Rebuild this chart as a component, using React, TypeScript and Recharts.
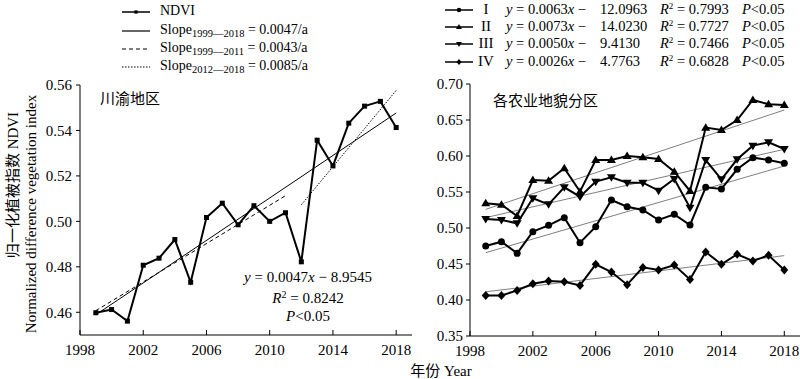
import React from "react";
import { LineChart, Line, XAxis, YAxis } from "recharts";

// Sichuan-Chongqing NDVI, 1999-2018
const years = [1999, 2000, 2001, 2002, 2003, 2004, 2005, 2006, 2007, 2008, 2009, 2010, 2011, 2012, 2013, 2014, 2015, 2016, 2017, 2018];
const ndvi = [0.4598, 0.4612, 0.4561, 0.4807, 0.4838, 0.492, 0.4732, 0.5017, 0.508, 0.4985, 0.5069, 0.5, 0.5038, 0.4822, 0.5357, 0.5244, 0.5432, 0.5507, 0.5528, 0.5413];

// trend line ends: [year, value]
const trendAll = [[1999, 0.4589], [2018, 0.5477]];
const trend9911 = [[1999, 0.4607], [2011, 0.5113]];
const trend1218 = [[2012, 0.5073], [2018, 0.5576]];

// agricultural geomorphic zones
const zoneI = [0.475, 0.481, 0.4648, 0.4949, 0.5037, 0.5144, 0.4796, 0.5019, 0.5389, 0.5296, 0.525, 0.5111, 0.519, 0.5042, 0.5565, 0.5542, 0.5815, 0.5977, 0.5944, 0.5898];
const zoneII = [0.5343, 0.5324, 0.5167, 0.5667, 0.5657, 0.5829, 0.5505, 0.5944, 0.5944, 0.6, 0.5981, 0.5958, 0.5782, 0.5514, 0.6394, 0.6361, 0.65, 0.6778, 0.6718, 0.6708];
const zoneIII = [0.5125, 0.5111, 0.5065, 0.5412, 0.5329, 0.5565, 0.5435, 0.5644, 0.5704, 0.563, 0.563, 0.5519, 0.5681, 0.5282, 0.5944, 0.5676, 0.5954, 0.6144, 0.619, 0.6097];
const zoneIV = [0.4063, 0.4063, 0.4133, 0.4226, 0.4263, 0.4253, 0.4202, 0.4495, 0.4388, 0.4212, 0.4453, 0.4416, 0.4486, 0.4286, 0.4667, 0.4495, 0.4635, 0.4542, 0.4621, 0.4416];

const trendI = [[1999, 0.4657], [2018, 0.5861]];
const trendII = [[1999, 0.5259], [2018, 0.6639]];
const trendIII = [[1999, 0.5144], [2018, 0.6093]];
const trendIV = [[1999, 0.4114], [2018, 0.4616]];

const xTicks = [1998, 2002, 2006, 2010, 2014, 2018];
const leftYTicks = [0.46, 0.48, 0.5, 0.52, 0.54, 0.56];
const rightYTicks = [0.35, 0.4, 0.45, 0.5, 0.55, 0.6, 0.65, 0.7];

const zoneNames = ["I", "II", "III", "IV"];
const zoneSlopes = ["0.0063", "0.0073", "0.0050", "0.0026"];
const zoneIntercepts = ["12.0963", "14.0230", "9.4130", "4.7763"];
const zoneR2 = ["0.7993", "0.7727", "0.7466", "0.6828"];

const FONT = '"Liberation Serif", "Times New Roman", "Noto Sans CJK SC", serif';

const toRows = (vals: number[]) => years.map((year, i) => ({ year, v: vals[i] }));
const toPairs = (pairs: number[][]) => pairs.map(([year, v]) => ({ year, v }));

// marker shapes, s = scale
type Shape = (cx: number, cy: number, k?: any, s?: number) => React.ReactElement;
const square: Shape = (cx, cy, k, s = 1) => (
  <rect key={k} x={cx - 2.5 * s} y={cy - 2.5 * s} width={5 * s} height={5 * s} fill="#000" />
);
const circle: Shape = (cx, cy, k, s = 1) => <circle key={k} cx={cx} cy={cy} r={3.5 * s} fill="#000" />;
const triUp: Shape = (cx, cy, k, s = 1) => (
  <polygon key={k} points={`${cx},${cy - 4.5 * s} ${cx - 4.5 * s},${cy + 3 * s} ${cx + 4.5 * s},${cy + 3 * s}`} fill="#000" />
);
const triDown: Shape = (cx, cy, k, s = 1) => (
  <polygon key={k} points={`${cx},${cy + 4.5 * s} ${cx - 4.5 * s},${cy - 3 * s} ${cx + 4.5 * s},${cy - 3 * s}`} fill="#000" />
);
const diamond: Shape = (cx, cy, k, s = 1) => (
  <polygon key={k} points={`${cx},${cy - 4.5 * s} ${cx + 4 * s},${cy} ${cx},${cy + 4.5 * s} ${cx - 4 * s},${cy}`} fill="#000" />
);
const zoneShapes = [circle, triUp, triDown, diamond];

const dotOf = (shape: Shape) => (p: any) => shape(p.cx, p.cy, p.index);

const XTick = (props: any) => {
  const { x, y, payload } = props;
  return (
    <g>
      <line x1={x} x2={x} y1={y} y2={y - 5} stroke="#000" />
      <text x={x} y={y + 20} textAnchor="middle" fontSize={15} fontFamily={FONT} fill="#000">
        {payload.value}
      </text>
    </g>
  );
};

const axisProps = {
  stroke: "#000",
  tick: { fontSize: 15, fontFamily: FONT, fill: "#000" },
};

function LegendIcon({ shape, dash }: { shape?: Shape; dash?: string }) {
  return (
    <svg width={28} height={10} style={{ display: "block" }}>
      <line x1={0} x2={28} y1={5} y2={5} stroke="#000" strokeWidth={shape ? 1.5 : 1.2} strokeDasharray={dash} />
      {shape ? shape(14, 5, undefined, 0.65) : null}
    </svg>
  );
}

const leftLegend: { label: string; shape?: Shape; sub?: string; val?: string; dash?: string }[] = [
  { label: "NDVI", shape: square },
  { label: "Slope", sub: "1999—2018", val: " = 0.0047/a" },
  { label: "Slope", sub: "1999—2011", val: " = 0.0043/a", dash: "4 3" },
  { label: "Slope", sub: "2012—2018", val: " = 0.0085/a", dash: "1.5 1.5" },
];
const leftLegendY = [12, 31, 49, 67];
const rightLegendY = [10, 27, 44, 62];

export default function App() {
  const text = { position: "absolute" as const, fontFamily: FONT, color: "#000", whiteSpace: "nowrap" as const, lineHeight: 1 };
  return (
    <div style={{ position: "absolute", left: 0, top: 0, width: 800, height: 379, background: "#fff", overflow: "hidden" }}>
      {/* left panel */}
      <div style={{ position: "absolute", left: 0, top: 0 }}>
        <LineChart width={420} height={379} margin={{ top: 85, right: 8, bottom: 0, left: 0 }}>
          <XAxis
            dataKey="year"
            type="number"
            domain={[1998, 2019]}
            ticks={xTicks}
            interval={0}
            height={44}
            tickSize={0}
            tickMargin={0}
            tick={<XTick />}
            stroke="#000"
            allowDuplicatedCategory={false}
          />
          <YAxis
            type="number"
            domain={[0.45, 0.56]}
            ticks={leftYTicks}
            interval={0}
            width={80}
            tickSize={4}
            tickMargin={4}
            tickFormatter={(v: number) => v.toFixed(2)}
            {...axisProps}
          />
          <Line data={toPairs(trendAll)} dataKey="v" stroke="#000" strokeWidth={1} dot={false} isAnimationActive={false} />
          <Line data={toPairs(trend9911)} dataKey="v" stroke="#000" strokeWidth={1} strokeDasharray="4 3" dot={false} isAnimationActive={false} />
          <Line data={toPairs(trend1218)} dataKey="v" stroke="#000" strokeWidth={1} strokeDasharray="1.5 1.5" dot={false} isAnimationActive={false} />
          <Line data={toRows(ndvi)} dataKey="v" stroke="#000" strokeWidth={2} dot={dotOf(square)} isAnimationActive={false} />
        </LineChart>
      </div>

      {/* right panel */}
      <div style={{ position: "absolute", left: 420, top: 0 }}>
        <LineChart width={380} height={379} margin={{ top: 84, right: 0, bottom: 0, left: 0 }}>
          <XAxis
            dataKey="year"
            type="number"
            domain={[1998, 2019]}
            ticks={xTicks}
            interval={0}
            height={43}
            tickSize={0}
            tickMargin={0}
            tick={<XTick />}
            stroke="#000"
            allowDuplicatedCategory={false}
          />
          <YAxis
            type="number"
            domain={[0.35, 0.7]}
            ticks={rightYTicks}
            interval={0}
            width={50}
            tickSize={4}
            tickMargin={3}
            tickFormatter={(v: number) => v.toFixed(2)}
            {...axisProps}
          />
          {[trendI, trendII, trendIII, trendIV].map((t, i) => (
            <Line key={"t" + i} data={toPairs(t)} dataKey="v" stroke="#808080" strokeWidth={1} dot={false} isAnimationActive={false} />
          ))}
          {[zoneI, zoneII, zoneIII, zoneIV].map((z, i) => (
            <Line key={"z" + i} data={toRows(z)} dataKey="v" stroke="#000" strokeWidth={2} dot={dotOf(zoneShapes[i])} isAnimationActive={false} />
          ))}
        </LineChart>
      </div>

      {/* left legend */}
      {leftLegend.map((it, i) => (
        <React.Fragment key={i}>
          <div style={{ position: "absolute", left: 122, top: leftLegendY[i] - 5 }}>
            <LegendIcon shape={it.shape} dash={it.dash} />
          </div>
          <div style={{ ...text, left: 160, top: leftLegendY[i] - 8, fontSize: 14 }}>
            {it.label}
            {it.sub ? <span style={{ fontSize: 10.5, verticalAlign: -3 }}>{it.sub}</span> : null}
            {it.val}
          </div>
        </React.Fragment>
      ))}

      {/* right legend */}
      {zoneNames.map((n, i) => (
        <React.Fragment key={n}>
          <div style={{ position: "absolute", left: 445, top: rightLegendY[i] - 5 }}>
            <LegendIcon shape={zoneShapes[i]} />
          </div>
          <div style={{ ...text, left: 486, top: rightLegendY[i] - 8, fontSize: 15, transform: "translateX(-50%)" }}>{n}</div>
          <div style={{ ...text, left: 506, top: rightLegendY[i] - 8, fontSize: 14.5 }}>
            <i>y</i> = {zoneSlopes[i]}<i>x</i> −
          </div>
          <div style={{ ...text, left: 600, top: rightLegendY[i] - 8, fontSize: 14.5 }}>{zoneIntercepts[i]}</div>
          <div style={{ ...text, left: 660, top: rightLegendY[i] - 8, fontSize: 14.5 }}>
            <i>R</i>
            <sup style={{ fontSize: 9, verticalAlign: 5 }}>2</sup> = {zoneR2[i]}
          </div>
          <div style={{ ...text, left: 742, top: rightLegendY[i] - 8, fontSize: 14.5 }}>
            <i>P</i>&lt;0.05
          </div>
        </React.Fragment>
      ))}

      {/* panel titles */}
      <div style={{ ...text, left: 100, top: 92, fontSize: 15 }}>川渝地区</div>
      <div style={{ ...text, left: 493, top: 94, fontSize: 15 }}>各农业地貌分区</div>

      {/* left regression note */}
      <div style={{ ...text, left: 308, top: 268, fontSize: 15, transform: "translateX(-50%)", textAlign: "center", lineHeight: "18px" }}>
        <div>
          <i>y</i> = 0.0047<i>x</i> − 8.9545
        </div>
        <div>
          <i>R</i>
          <sup style={{ fontSize: 10, verticalAlign: 5 }}>2</sup> = 0.8242
        </div>
        <div>
          <i>P</i>&lt;0.05
        </div>
      </div>

      {/* axis titles */}
      <div style={{ ...text, left: 13, top: 185, fontSize: 15, transform: "translate(-50%, -50%) rotate(-90deg)" }}>归一化植被指数 NDVI</div>
      <div style={{ ...text, left: 31, top: 214, fontSize: 15, transform: "translate(-50%, -50%) rotate(-90deg)" }}>
        Normalized difference vegetation index
      </div>
      <div style={{ ...text, left: 441, top: 371, fontSize: 15, transform: "translate(-50%, -50%)" }}>年份 Year</div>
    </div>
  );
}
